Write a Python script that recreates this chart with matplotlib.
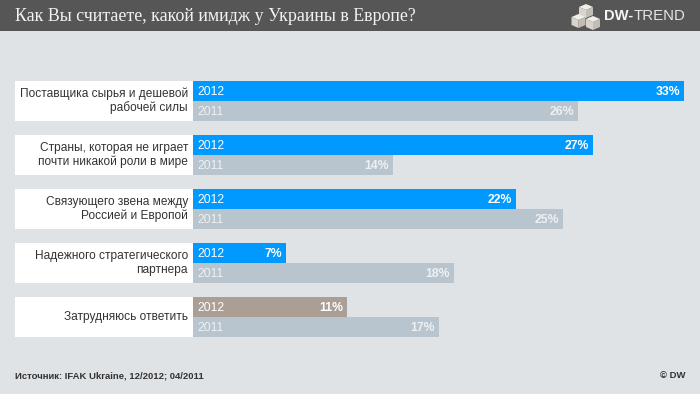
import matplotlib
matplotlib.use("Agg")
import matplotlib.pyplot as plt
from matplotlib.patches import Rectangle, Polygon

plt.rcParams['font.family'] = ['Liberation Sans', 'DejaVu Sans']

title = "Как Вы считаете, какой имидж у Украины в Европе?"
source = "Источник: IFAK Ukraine, 12/2012; 04/2011"
categories = ["Поставщика сырья и дешевой\nрабочей силы",
              "Страны, которая не играет\nпочти никакой роли в мире",
              "Связующего звена между\nРоссией и Европой",
              "Надежного стратегического\nпартнера",
              "Затрудняюсь ответить"]
# bar lengths, the printed labels are rounded
values_2012 = [33.2, 27.0, 21.8, 6.3, 10.4]
values_2011 = [26.0, 13.5, 25.0, 17.65, 16.6]
labels_2012 = ["33%", "27%", "22%", "7%", "11%"]
labels_2011 = ["26%", "14%", "25%", "18%", "17%"]
colors_2012 = ["#0099ff", "#0099ff", "#0099ff", "#0099ff", "#ab9e94"]
color_2011 = "#b9c5ce"

W, H = 700, 394
PX = 14.8  # pixels per percent
X0 = 193   # bar origin
DY = 1 / 54  # text sits about 1 px below the bar centre

fig = plt.figure(figsize=(7, 3.94), dpi=100, facecolor="#dfe3e6")

# overlay in pixel coordinates for header, logo and footer
bg = fig.add_axes([0, 0, 1, 1])
bg.set_xlim(0, W)
bg.set_ylim(H, 0)
bg.axis("off")
bg.add_patch(Rectangle((0, 0), W, 30.5, color="#565656", lw=0))
bg.text(15, 16, title, family=["Liberation Serif"], fontsize=12.85, color="#f2f2f2", va="center")
bg.text(15, 375.5, source, fontsize=6.8, fontweight="bold", color="#333333", va="center")
bg.text(685, 375.5, "© DW", fontsize=6.8, fontweight="bold", color="#333333", va="center", ha="right")

# logo
for cx, cy in [(586, 7), (578.5, 17), (593, 19)]:
    bg.add_patch(Polygon([(cx - 7, cy), (cx, cy - 3), (cx + 7, cy), (cx, cy + 3)], color="#f0eee8", lw=0))
    bg.add_patch(Polygon([(cx - 7, cy), (cx, cy + 3), (cx, cy + 11), (cx - 7, cy + 8)], color="#d8d4cc", lw=0))
    bg.add_patch(Polygon([(cx + 7, cy), (cx, cy + 3), (cx, cy + 11), (cx + 7, cy + 8)], color="#c2beb6", lw=0))
bg.text(604, 16, "DW-", fontsize=10.6, fontweight="bold", color="#f4f4f4", va="center")
bg.text(634, 16, "TREND", fontsize=10.8, color="#e4e4e4", va="center")

# bars, one row unit is 54 px
ax = fig.add_axes([0, 0, 1, 1])
ax.patch.set_alpha(0)
ax.set_xlim(-X0 / PX, (W - X0) / PX)
ax.set_ylim((H - 101) / 54, -101 / 54)
ax.axis("off")

h = 20 / 54
for i, cat in enumerate(categories):
    ax.add_patch(Rectangle((-178 / PX, i - h), 178 / PX, 2 * h, color="white", lw=0))
    ax.text(-5 / PX, i, cat, fontsize=8.6, color="#333333", ha="right", va="center",
            linespacing=1.15)
    ax.barh(i - h / 2, values_2012[i], height=h, color=colors_2012[i], lw=0)
    ax.barh(i + h / 2, values_2011[i], height=h, color=color_2011, lw=0)
    ax.text(4 / PX, i - h / 2 + DY, "2012", fontsize=8.8, color="white", va="center")
    ax.text(4 / PX, i + h / 2 + DY, "2011", fontsize=8.8, color="#eef1f3", va="center")
    ax.text(values_2012[i] - 4 / PX, i - h / 2 + DY, labels_2012[i], fontsize=8.8, fontweight="bold",
            color="white", ha="right", va="center")
    ax.text(values_2011[i] - 4 / PX, i + h / 2 + DY, labels_2011[i], fontsize=8.8, fontweight="bold",
            color="#eef1f3", ha="right", va="center")

fig.savefig("out.png", dpi=100, facecolor=fig.get_facecolor())
